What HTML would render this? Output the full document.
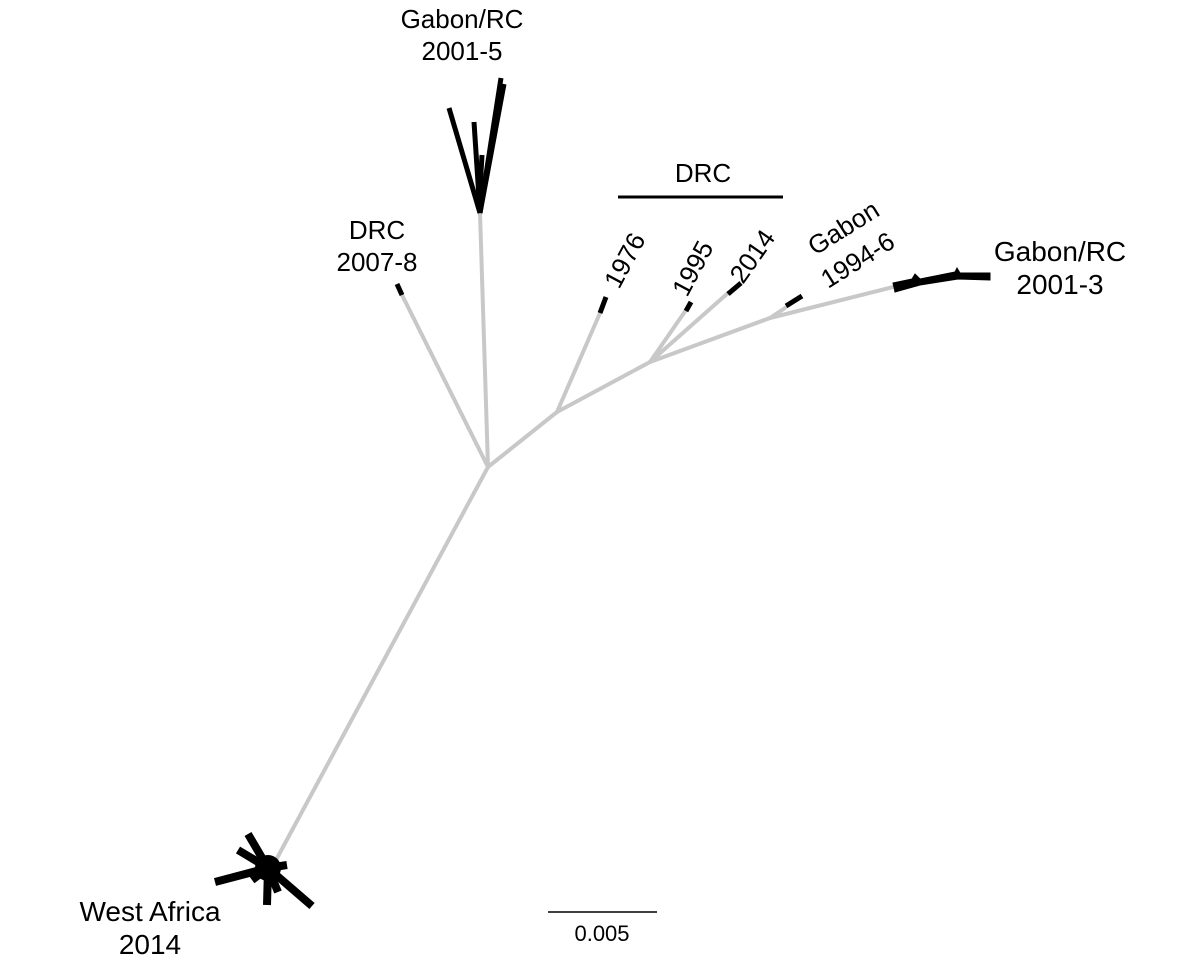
<!DOCTYPE html>
<html><head><style>body{margin:0;background:#fff}svg{display:block}text{font-family:"Liberation Sans",sans-serif;font-size:26px;fill:#000}</style></head><body>
<svg width="1200" height="960" viewBox="0 0 1200 960">
<g stroke="#c8c8c8" stroke-width="4" fill="none" stroke-linecap="round">
<line x1="488" y1="467" x2="276" y2="860"/>
<line x1="488" y1="467" x2="480" y2="213"/>
<line x1="488" y1="467" x2="402" y2="295"/>
<line x1="488" y1="467" x2="557" y2="412"/>
<line x1="557" y1="412" x2="600" y2="313"/>
<line x1="557" y1="412" x2="650" y2="362"/>
<line x1="650" y1="362" x2="686" y2="310"/>
<line x1="650" y1="362" x2="728" y2="293"/>
<line x1="650" y1="362" x2="770" y2="318"/>
<line x1="770" y1="318" x2="893" y2="287"/>
<line x1="770" y1="318" x2="785" y2="308"/>
</g>
<g stroke="#000" stroke-width="5" fill="none">
<line x1="480" y1="213" x2="449" y2="108"/>
<line x1="480" y1="213" x2="474" y2="122"/>
<line x1="480" y1="213" x2="501" y2="78"/>
<line x1="480" y1="213" x2="504" y2="84"/>
<line x1="480" y1="190" x2="482" y2="155"/>
<line x1="402" y1="295" x2="397" y2="284"/>
<line x1="600" y1="313" x2="606" y2="297"/>
<line x1="686" y1="311" x2="691" y2="302"/>
<line x1="728" y1="294" x2="741" y2="283"/>
<line x1="786" y1="306" x2="802" y2="296"/>
<polygon points="893,283 912,279 915,274 920,279 955,272 957,268 960,273 990,273 990,280 958,279 920,285 895,292" fill="#000" stroke-width="1"/>
<line x1="268" y1="868" x2="248" y2="834" stroke-width="8"/>
<line x1="268" y1="868" x2="238" y2="850" stroke-width="8"/>
<line x1="268" y1="868" x2="215" y2="882" stroke-width="8"/>
<line x1="268" y1="868" x2="312" y2="906" stroke-width="8"/>
<line x1="268" y1="868" x2="267" y2="905" stroke-width="8"/>
<line x1="268" y1="868" x2="252" y2="880" stroke-width="8"/>
<line x1="268" y1="868" x2="287" y2="865" stroke-width="8"/>
<line x1="268" y1="868" x2="278" y2="892" stroke-width="8"/>
<circle cx="268" cy="868" r="13" fill="#000" stroke="none"/>
<line x1="618" y1="197" x2="783" y2="197" stroke-width="3"/>
<line x1="548" y1="912" x2="657" y2="912" stroke-width="1.5"/>
</g>
<text x="462" y="28" text-anchor="middle">Gabon/RC</text>
<text x="462" y="60" text-anchor="middle">2001-5</text>
<text x="703" y="182" text-anchor="middle">DRC</text>
<text x="377" y="239" text-anchor="middle">DRC</text>
<text x="377" y="271" text-anchor="middle">2007-8</text>
<text x="1060" y="261" text-anchor="middle" style="font-size:28px">Gabon/RC</text>
<text x="1060" y="294" text-anchor="middle" style="font-size:28px">2001-3</text>
<text transform="translate(619,290) rotate(-62)" text-anchor="start">1976</text>
<text transform="translate(687,298) rotate(-62)">1995</text>
<text transform="translate(743,285) rotate(-55)">2014</text>
<text transform="translate(815,256) rotate(-32)">Gabon</text>
<text transform="translate(828,289) rotate(-32)">1994-6</text>
<text x="150" y="921" text-anchor="middle" style="font-size:28px">West Africa</text>
<text x="150" y="954" text-anchor="middle" style="font-size:28px">2014</text>
<text x="602" y="941" text-anchor="middle" style="font-size:22px">0.005</text>
</svg>
</body></html>
